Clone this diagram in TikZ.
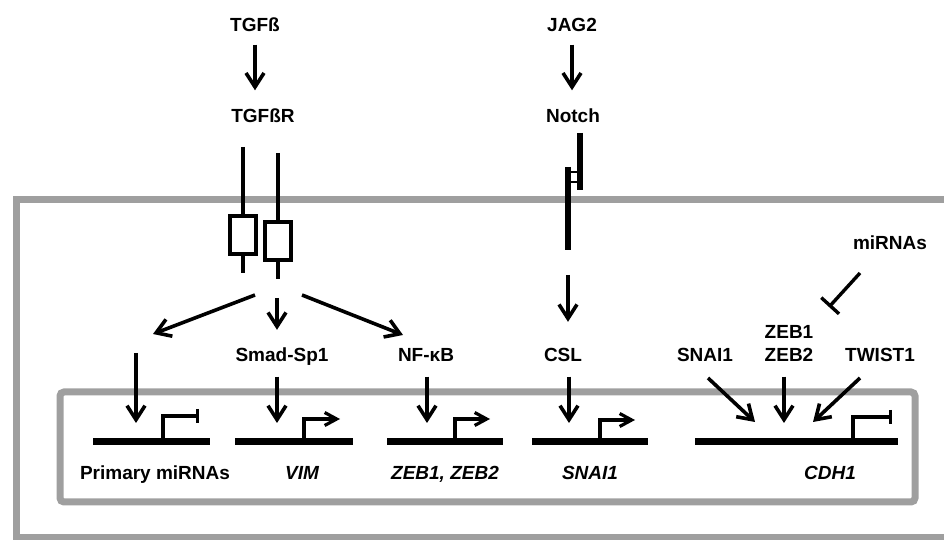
\documentclass[tikz,border=0pt]{standalone}
\usepackage{fontspec}
\setmainfont{Liberation Sans}
\usetikzlibrary{arrows.meta}

\tikzset{
  lbl/.style={font=\fontsize{19}{22}\selectfont\bfseries, inner sep=0pt, text height=13pt, text depth=0pt},
  glbl/.style={lbl, font=\fontsize{19}{22}\selectfont\bfseries\itshape},
  arr/.style={-{Straight Barb[length=14pt,width=18pt]}, line width=3.6pt},
  act/.style={arr, shorten <=13pt, shorten >=19pt},
  prom/.style={line width=3.2pt, -{Straight Barb[length=12pt,width=13pt]}},
  inh/.style={line width=3.2pt, -{Bar[width=14pt]}},
  gene/.style={fill=black, inner sep=0pt, minimum height=7pt},
  rec/.style={line width=3.2pt},
  nline/.style={line width=5.5pt},
  memb/.style={draw=gray!75, line width=7pt}
}

\begin{document}
\begin{tikzpicture}[x=1pt,y=1pt]
            \useasboundingbox (0,0) rectangle (944,540);
            \clip (0,0) rectangle (944,540);

            %cell and nucleus
            \draw[memb] (16,2) rectangle (965,340);
            \draw[memb, rounded corners=4pt] (60,38) rectangle (915,148);

            %ligands and receptors
            \node[lbl] (tgfb) at (255,515) {TGFß};
            \node[lbl] (tgfbr) at (263,424) {TGFßR};
            \node[lbl] (jag) at (572,515) {JAG2};
            \node[lbl] (notch) at (573,424) {Notch};
            \draw[act] (tgfb) -- (tgfb |- tgfbr.north);
            \draw[act] (jag) -- (jag |- notch.north);

            \foreach \x/\t/\b in {243/393/324, 278/387/318}
            {
                \draw[rec] (\x,\t) -- (\x,\b);
                \draw[rec] (\x-13,\b-38) rectangle (\x+13,\b);
                \draw[rec] (\x,\b-38) -- (\x,\b-57);
            }

            \draw[nline] (580,407) -- (580,350);
            \draw[nline] (568,373) -- (568,290);
            \draw[line width=2.6pt] (568,368) rectangle (580,358);
            \coordinate (nicd) at (568,290);

            %transcription factors
            \node[lbl] (smad) at (282,185) {Smad-Sp1};
            \node[lbl] (nfkb) at (426,185) {NF-κB};
            \node[lbl] (csl) at (563,185) {CSL};
            \node[lbl] (snai) at (705,185) {SNAI1};
            \node[lbl] (zeb2) at (789,185) {ZEB2};
            \node[lbl] (zeb1) at (789,208) {ZEB1};
            \node[lbl] (twist) at (880,185) {TWIST1};
            \node[lbl] (mir) at (890,297) {miRNAs};

            %branches below the receptor
            \coordinate (brl) at (255,245);
            \coordinate (brlend) at (153,206);
            \coordinate (brm) at (277,242);
            \coordinate (brr) at (302,245);
            \coordinate (brrend) at (403,205);
            \draw[arr] (brl) -- (brlend);
            \draw[arr, shorten >=18.5pt] (brm) -- (brm |- smad.north);
            \draw[arr] (brr) -- (brrend);
            \draw[arr, shorten <=25pt, shorten >=26.5pt] (nicd) -- (nicd |- csl.north);

            %genes
            \node[gene, minimum width=117pt] (gpmir) at (151.5,98) {};
            \node[gene, minimum width=118pt] (gvim) at (294,98) {};
            \node[gene, minimum width=116pt] (gzeb) at (445,98) {};
            \node[gene, minimum width=116pt] (gsnai) at (590,98) {};
            \node[gene, minimum width=203pt] (gcdh) at (796.5,98) {};

            \draw[inh] ([xshift=11.5pt]gpmir.center) |- ++(36,26);
            \draw[prom] ([xshift=10pt]gvim.center) |- ++(36,23);
            \draw[prom] ([xshift=10pt]gzeb.center) |- ++(35,23);
            \draw[prom] ([xshift=10pt]gsnai.center) |- ++(35,22);
            \draw[inh] ([xshift=56.5pt]gcdh.center) |- ++(39,25);

            \node[lbl] (lpmir) at (155,67) {Primary miRNAs};
            \node[glbl] (lvim) at (302,67) {VIM};
            \node[glbl] (lzeb) at (445,67) {ZEB1, ZEB2};
            \node[glbl] (lsnai) at (590,67) {SNAI1};
            \node[glbl] (lcdh) at (830,67) {CDH1};

            %regulation of the genes
            \coordinate (pmirtop) at (136,187);
            \coordinate (pmirin) at (136,98);
            \coordinate (vimin) at (277,98);
            \coordinate (zebin) at (427,98);
            \coordinate (snaiin) at (569,98);
            \coordinate (cdhin) at (784,98);
            \draw[act, shorten <=0pt] (pmirtop) -- (pmirin);
            \draw[act, shorten <=15pt] (smad.south -| vimin) -- (vimin);
            \draw[act, shorten <=15pt] (nfkb.south -| zebin) -- (zebin);
            \draw[act, shorten <=15pt] (csl.south -| snaiin) -- (snaiin);
            \draw[act, shorten <=15pt] (zeb2.south -| cdhin) -- (cdhin);

            \coordinate (snaifrom) at (708,162);
            \coordinate (snaito) at (755,118);
            \coordinate (twfrom) at (860,162);
            \coordinate (twto) at (813,118);
            \draw[arr] (snaifrom) -- (snaito);
            \draw[arr] (twfrom) -- (twto);

            \coordinate (mirfrom) at (860,267);
            \coordinate (mirto) at (829,233);
            \draw[line width=3.4pt, -{Bar[width=24pt]}] (mirfrom) -- (mirto);

        \end{tikzpicture}
\end{document}
